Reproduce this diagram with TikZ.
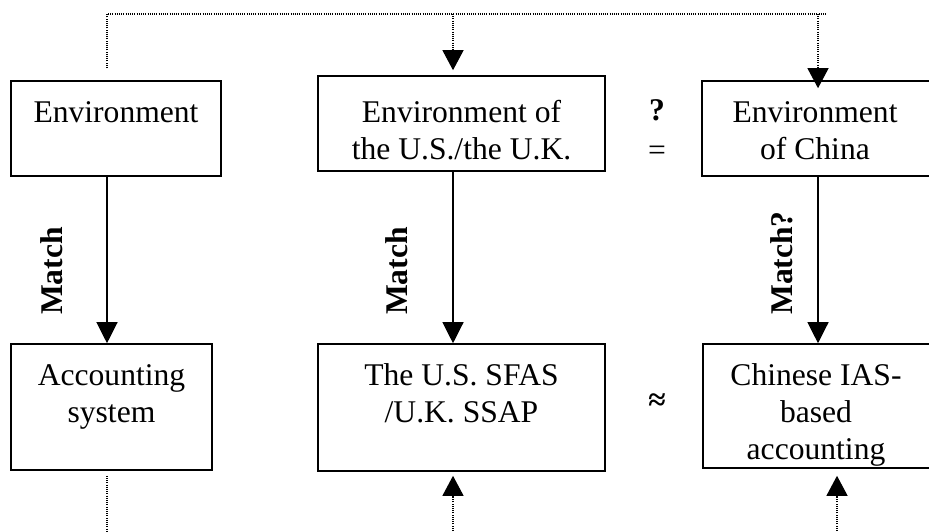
\documentclass[tikz,border=0pt]{standalone}
\usepackage{fontspec}
\setmainfont{Liberation Serif}
\usetikzlibrary{arrows.meta}
% centred multi-line text whose baseline is that of its first line
\newcommand\boxlines[1]{\begin{tabular}[t]{@{}c@{}}#1\end{tabular}}
\begin{document}
\begin{tikzpicture}[x=0.5pt,y=-0.5pt,
  box/.style={draw, line width=0.8pt, inner sep=0pt},
  txt/.style={anchor=base, inner sep=0pt, font=\fontsize{15.8}{18.5}\selectfont},
  lbl/.style={anchor=base, inner sep=0pt, rotate=90, font=\fontsize{15.8}{18.5}\selectfont\bfseries},
  link/.style={line width=0.6pt, -{Triangle[length=10.5pt,width=10.5pt]}},
  feed/.style={line width=0.6pt, dash pattern=on 0.5pt off 0.6pt},
  feedarr/.style={feed, -{Triangle[length=10pt,width=10.5pt]}}]
\useasboundingbox (0,0) rectangle (929,531);

% boxes
\node[box, minimum width=105pt,   minimum height=47.5pt] (env)   at (116,128.5) {};
\node[box, minimum width=143.5pt, minimum height=47.5pt] (envus) at (461.5,123.5) {};
\node[box, minimum width=114pt,   minimum height=47.5pt] (envcn) at (816,128.5) {};
\node[box, minimum width=100.5pt, minimum height=63pt]   (acc)   at (111.5,407) {};
\node[box, minimum width=143.5pt, minimum height=63.5pt] (std)   at (461.5,407.5) {};
\node[box, minimum width=113.5pt, minimum height=62pt]   (cas)   at (816.5,406) {};

% box texts
\node[txt] (envT)   at (116,122)   {Environment};
\node[txt] (envusT) at (461.5,122) {\boxlines{Environment of\\the U.S./the U.K.}};
\node[txt] (envcnT) at (815,122)   {\boxlines{Environment\\of China}};
\node[txt] (accT)   at (111.5,385) {\boxlines{Accounting\\system}};
\node[txt] (stdT)   at (461.5,385) {\boxlines{The U.S. SFAS\\/U.K. SSAP}};
\begin{scope}
  \clip (cas.south west) rectangle (cas.north east);
  \node[txt] (casT) at (816,385) {\boxlines{Chinese IAS-\\based\\accounting}};
\end{scope}

% comparison signs between the columns
\node[txt, font=\fontsize{15.8}{18.5}\selectfont\bfseries] (q)  at (657,120) {?};
\node[txt] (eq) at (657,160) {=};
\node[txt, font=\fontsize{15.8}{18.5}\selectfont\bfseries] (ap) at (657,410) {≈};

% column positions of the connectors
\coordinate (c1) at (107,0);
\coordinate (c2) at (453,0);
\coordinate (c3) at (818,0);
\coordinate (c4) at (837,0);

% environment -> accounting
\draw[link] (env.south -| c1)   -- (acc.north -| c1);
\draw[link] (envus.south -| c2) -- (std.north -| c2);
\draw[link] (envcn.south -| c3) -- (cas.north -| c3);
\node[lbl] (m1) at (62,271)  {Match};
\node[lbl] (m2) at (407,271) {Match};
\node[lbl] (m3) at (792,263) {Match?};

% dotted feedback along the top
\coordinate (fb) at (107,68);
\coordinate (tl) at (107,14);
\coordinate (tr) at (827,14);
\draw[feed] (fb) -- (tl) -- (tr);
\draw[feedarr, shorten >=2.5pt] (tl -| c2) -- (envus.north -| c2);
\draw[feedarr, shorten >=-4pt]  (tl -| c3) -- (envcn.north -| c3);

% dotted feedback along the bottom
\coordinate (b1) at (107,531);
\coordinate (b2) at (453,531);
\coordinate (b4) at (837,531);
\draw[feed, shorten <=2.5pt] (acc.south -| c1) -- (b1);
\draw[feedarr, shorten >=2pt]   (b2) -- (std.south -| c2);
\draw[feedarr, shorten >=3.5pt] (b4) -- (cas.south -| c4);
\end{tikzpicture}
\end{document}
